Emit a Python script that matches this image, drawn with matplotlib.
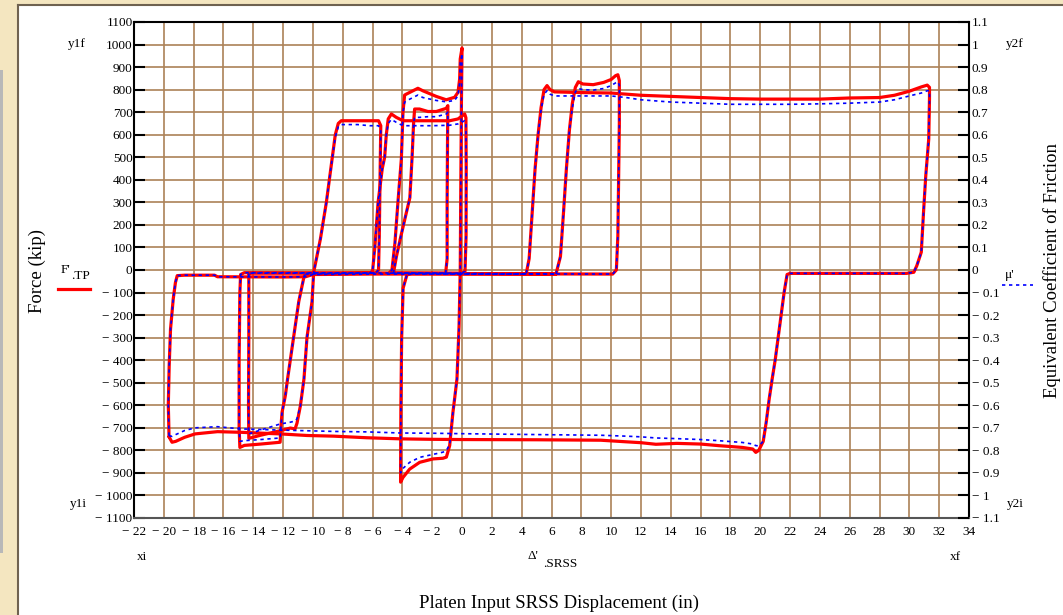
import matplotlib
matplotlib.use('Agg')
import matplotlib.pyplot as plt
import numpy as np
from matplotlib.patches import Rectangle
from matplotlib.lines import Line2D

plt.rcParams['font.family'] = ['Liberation Serif', 'DejaVu Serif']

# ---------------- data ----------------
x_ticks = list(range(-22, 35, 2))
F_ticks = list(range(-1100, 1101, 100))
mu_ticks = [v / 10 for v in range(-11, 12)]

# outer loop
big_x = [-19.65, -19.68, -19.7, -19.64, -19.55, -19.37, -19.22, -19.1, -18.6, -16.6, -16.4, -12.0, -10.5, -10.0,
         -6.0, -2.0, 2.0, 4.3, 4.5, 4.7, 4.9, 5.1, 5.3, 5.5, 5.7, 5.9, 6.2, 8.0, 10.0, 11.0, 12.0, 14.0, 16.0,
         18.0, 20.0, 22.0, 24.0, 26.0, 28.0, 29.0, 30.0, 30.8, 31.2, 31.35, 31.35, 31.3, 31.1, 30.95, 30.8,
         30.5, 30.3, 29.8, 22.0, 21.8, 21.6, 21.3, 21.0, 20.8, 20.6, 20.4, 20.2, 19.9, 19.7, 19.5, 18.8, 17.2,
         16.0, 14.4, 13.0, 12.0, 11.0, 9.3, 5.0, 0.0, -2.0, -4.1, -6.4, -8.6, -10.4, -12.2, -14.8, -16.4,
         -17.9, -18.6, -19.2, -19.45, -19.65]
big_F = [-740, -650, -600, -424, -262, -129, -55, -25, -23, -23, -30, -31, -30, -20,
         -18, -18, -18, -18, 50, 250, 450, 600, 720, 800, 818, 800, 790, 787, 785, 780, 775, 770, 765,
         760, 758, 758, 758, 763, 765, 775, 793, 812, 820, 810, 760, 581, 418, 256, 79,
         19, -10, -15, -15, -20, -100, -250, -400, -483, -572, -675, -760, -800, -809, -794, -787, -779,
         -772, -769, -773, -766, -762, -755, -753, -752, -751, -749, -744, -737, -734, -727, -720, -717,
         -727, -742, -760, -764, -740]
big_mu = [-0.735, -0.65, -0.6, -0.424, -0.262, -0.129, -0.055, -0.025, -0.023, -0.023, -0.03, -0.031, -0.03, -0.02,
          -0.018, -0.018, -0.018, -0.018, 0.05, 0.25, 0.45, 0.6, 0.71, 0.78, 0.795, 0.78, 0.772, 0.772, 0.772, 0.765,
          0.755, 0.745, 0.74, 0.735, 0.735, 0.735, 0.737, 0.74, 0.745, 0.755, 0.772, 0.785, 0.795, 0.795, 0.76,
          0.581, 0.418, 0.256, 0.079, 0.019, -0.01, -0.015, -0.015, -0.02, -0.1, -0.25, -0.4, -0.483, -0.572,
          -0.675, -0.76, -0.78, -0.779, -0.772, -0.765, -0.757, -0.752, -0.748, -0.745, -0.74, -0.737, -0.733,
          -0.73, -0.726, -0.724, -0.723, -0.718, -0.716, -0.713, -0.71, -0.705, -0.695, -0.7, -0.712, -0.73,
          -0.738, -0.735]

# loop through (10.4, 866), the -941 drop and the 760 plateau
r2_x = [6.3, 6.6, 6.8, 7.0, 7.2, 7.4, 7.6, 7.8, 8.1, 8.8, 9.5, 10.0, 10.3, 10.45, 10.55, 10.55, 10.5, 10.45,
        10.35, 10.1, -3.4, -3.7, -3.95, -4.05, -4.1, -4.12, -4.12, -3.96, -3.51, -2.84, -1.95, -1.28, -1.05,
        -0.83, -0.61, -0.5, -0.34, -0.2, -0.12, -0.08, -0.04, 0.0, -0.12, -0.16, -0.27, -0.5, -1.06, -1.73,
        -2.63, -2.96, -3.74, -3.85, -3.96, -4.07, -4.3, -4.5, -4.7, -4.9, 6.3]
r2_F = [-18, 60, 250, 450, 620, 740, 810, 835, 825, 822, 832, 845, 862, 866, 840, 650, 400, 150,
        0, -18, -16, -22, -80, -300, -600, -880, -941, -920, -883, -853, -838, -835, -830,
        -779, -631, -572, -483, -250, 0, 400, 750, 985, 936, 847, 788, 766, 755, 770,
        795, 806, 780, 776, 700, 492, 300, 120, 0, -14, -18]
r2_mu = [-0.018, 0.06, 0.25, 0.45, 0.62, 0.72, 0.79, 0.805, 0.8, 0.798, 0.805, 0.818, 0.83, 0.835, 0.82, 0.65,
         0.4, 0.15, 0.0, -0.018, -0.016, -0.022, -0.08, -0.3, -0.6, -0.86, -0.9, -0.88, -0.853, -0.831, -0.818,
         -0.808, -0.8, -0.775, -0.631, -0.572, -0.483, -0.25, 0.0, 0.4, 0.75, 0.96, 0.92, 0.83, 0.773, 0.752,
         0.746, 0.752, 0.765, 0.776, 0.75, 0.744, 0.7, 0.492, 0.3, 0.12, 0.0, -0.014, -0.018]

# loop with the ~662 plateau and the drop at -14.9
l3_x = [-10.5, -6.2, -6.0, -5.85, -5.63, -5.35, -5.19, -5.08, -4.95, -4.74, -4.41, -3.96, -3.0, -2.0, -0.83,
        -0.27, 0.18, 0.26, 0.28, 0.27, 0.2, 0.0, -14.6, -14.85, -14.9, -14.95, -14.95, -14.9, -14.6, -13.5,
        -12.2, -12.15, -12.07, -11.85, -11.7, -11.3, -10.95, -10.6, -10.5]
l3_F = [-18, -14, -5, 100, 300, 450, 500, 600, 670, 692, 677, 662, 662, 662, 662,
        670, 692, 675, 450, 150, -5, -14, -12, -20, -100, -400, -700, -787, -778, -772,
        -764, -700, -631, -557, -483, -300, -140, -30, -18]
l3_mu = [-0.018, -0.014, -0.005, 0.1, 0.3, 0.45, 0.5, 0.6, 0.65, 0.668, 0.655, 0.64, 0.64, 0.64, 0.642,
         0.648, 0.662, 0.655, 0.45, 0.15, -0.005, -0.014, -0.012, -0.02, -0.1, -0.4, -0.7, -0.76, -0.757, -0.752,
         -0.745, -0.7, -0.631, -0.557, -0.483, -0.3, -0.14, -0.03, -0.018]

# loop with the ~662 plateau on the left and the drop at -14.3
l4_x = [-14.3, -14.3, -14.32, -14.3, -13.52, -12.2, -11.51, -11.2, -11.07, -10.84, -10.6, -10.4, -10.06, -9.95,
        -9.5, -9.1, -8.8, -8.5, -8.3, -8.1, -7.0, -6.2, -5.6, -5.45, -5.5, -5.55, -5.6, -5.8, -14.1, -14.3]
l4_F = [-15, -300, -600, -747, -733, -713, -701, -705, -680, -602, -483, -300, -140, -10,
        137, 300, 450, 600, 650, 662, 662, 662, 662, 640, 400, 150, 0, -14, -14, -15]
l4_mu = [-0.015, -0.3, -0.6, -0.727, -0.71, -0.683, -0.675, -0.67, -0.66, -0.602, -0.483, -0.3, -0.14, -0.01,
         0.137, 0.3, 0.45, 0.59, 0.635, 0.645, 0.645, 0.64, 0.64, 0.62, 0.4, 0.15, 0.0, -0.014, -0.014, -0.015]

# loop with the ~714 plateau
l5_x = [-4.6, -4.4, -4.1, -3.75, -3.5, -3.35, -3.25, -3.18, -2.85, -2.29, -1.73, -1.06, -0.95, -0.97, -1.0,
        -1.0, -1.1, -4.6]
l5_F = [-14, 60, 150, 250, 320, 500, 650, 714, 714, 703, 703, 717, 729, 600, 300, 50, -15, -14]
l5_mu = [-0.014, 0.06, 0.15, 0.25, 0.32, 0.5, 0.65, 0.677, 0.677, 0.68, 0.68, 0.692, 0.7, 0.6, 0.3, 0.05,
         -0.015, -0.014]

loops = [(big_x, big_F, big_mu), (r2_x, r2_F, r2_mu), (l3_x, l3_F, l3_mu),
         (l4_x, l4_F, l4_mu), (l5_x, l5_F, l5_mu)]

# ---------------- figure ----------------
W, H = 1063, 615
fig = plt.figure(figsize=(W / 100, H / 100), dpi=100)
fig.patch.set_facecolor('#F4E6C0')


def fx(px):
    return px / W


def fy(py):
    return 1 - py / H


fig.patches.append(Rectangle((fx(18), 0), 1 - fx(18), fy(5), transform=fig.transFigure,
                             facecolor='white', edgecolor='none', zorder=-10))
fig.add_artist(Line2D([fx(17.5), fx(17.5)], [0, fy(5)], color='#6F6250', lw=1.5, zorder=-5))
fig.add_artist(Line2D([fx(17.5), 1], [fy(5), fy(5)], color='#6F6250', lw=1.5, zorder=-5))
fig.patches.append(Rectangle((0, fy(553)), fx(3), (553 - 70) / H, transform=fig.transFigure,
                             facecolor='#B8B8B8', edgecolor='none', zorder=-5))

ax = fig.add_axes([fx(134), fy(518), (969 - 134) / W, (518 - 22) / H])
ax.set_zorder(1)
ax.set_xlim(-22, 34)
ax.set_ylim(-1100, 1100)
ax.set_facecolor('white')


def lab(v):
    s = ('%g' % abs(v))
    return ('\u2212 ' + s) if v < 0 else s


TS = 9.5
ax.set_xticks(x_ticks)
ax.set_xticklabels([lab(v) for v in x_ticks])
ax.set_yticks(F_ticks)
ax.set_yticklabels([lab(v) for v in F_ticks])
ax.tick_params(axis='x', length=0, pad=6, labelsize=TS)
ax.tick_params(axis='y', direction='in', length=8, width=1.5, pad=1, labelsize=TS, colors='black')
ax.grid(True, color='#AC8258', lw=1.2)
ax.set_axisbelow(True)
for s in ['left', 'right', 'top']:
    ax.spines[s].set_color('black')
    ax.spines[s].set_linewidth(1.5)
ax.spines['bottom'].set_color('#555555')
ax.spines['bottom'].set_linewidth(1.5)

ax2 = ax.twinx()
ax2.set_zorder(2)
ax2.patch.set_visible(False)
ax2.set_ylim(-1.1, 1.1)
ax2.set_yticks(mu_ticks)
ax2.set_yticklabels([lab(round(v, 1)) for v in mu_ticks])
ax2.tick_params(axis='y', direction='in', length=8, width=1.5, pad=2, labelsize=TS)
for s in ax2.spines.values():
    s.set_visible(False)

for xs, Fs, mus in loops:
    ax.plot(xs, Fs, color='#FF0000', lw=2.3, solid_joinstyle='round', solid_capstyle='round', zorder=3)
for xs, Fs, mus in loops:
    ax2.plot(xs, mus, color='#0000FF', lw=1.2, linestyle=(0, (2, 2.2)), zorder=4)

# ---------------- texts ----------------
tk = dict(fontsize=TS, ha='center', va='center')
fig.text(fx(77), fy(44), 'y1f', **tk)
fig.text(fx(78), fy(504), 'y1i', **tk)
fig.text(fx(1015), fy(44), 'y2f', **tk)
fig.text(fx(1015), fy(504), 'y2i', **tk)
fig.text(fx(142), fy(557), 'xi', **tk)
fig.text(fx(955), fy(557), 'xf', **tk)
fig.text(fx(533), fy(556), "\u0394'", **tk)
fig.text(fx(543), fy(564), '.SRSS', fontsize=TS, ha='left', va='center')
fig.text(fx(65), fy(270), "F'", **tk)
fig.text(fx(71), fy(276), '.TP', fontsize=TS, ha='left', va='center')
fig.add_artist(Line2D([fx(58), fx(90)], [fy(288.5), fy(288.5)], color='#FF0000', lw=2.3))
fig.text(fx(1010), fy(275), "\u03bc'", **tk)
fig.add_artist(Line2D([fx(1002), fx(1033)], [fy(285), fy(285)], color='#0000FF', lw=1.2,
                      linestyle=(0, (2, 2.2))))
fig.text(fx(37), fy(271), 'Force (kip)', fontsize=13.5, rotation=90, ha='center', va='center')
fig.text(fx(1052), fy(271), 'Equivalent Coefficient of Friction', fontsize=13.5, rotation=90,
         ha='center', va='center')
fig.text(fx(559), fy(603), 'Platen Input SRSS Displacement (in)', fontsize=13.5, ha='center', va='center')

fig.savefig('out.png', dpi=100, facecolor=fig.get_facecolor())
